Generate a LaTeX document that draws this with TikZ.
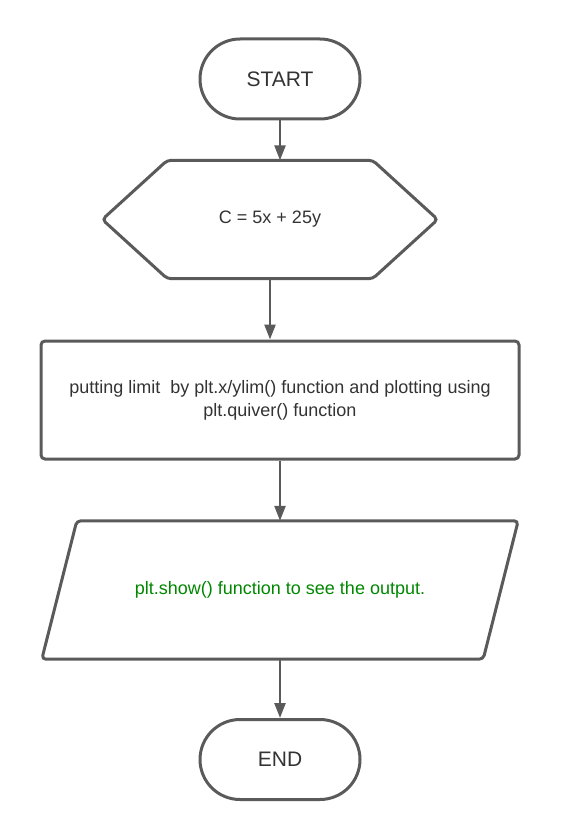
\documentclass[tikz,border=0pt]{standalone}
\usepackage{fontspec}
\setmainfont{Liberation Sans}
\usetikzlibrary{arrows.meta,positioning}
\definecolor{linegray}{RGB}{90,90,90}
\definecolor{textgray}{RGB}{51,51,51}
\definecolor{outgreen}{RGB}{0,135,0}

\begin{document}
\begin{tikzpicture}[x=1pt,y=-1pt,
    box/.style={text=textgray,font=\fontsize{18}{23}\selectfont,align=center,inner sep=0pt},
    outline/.style={draw=linegray,line width=3pt,rounded corners=4pt},
    terminal/.style={box,draw=linegray,line width=3pt,rounded corners=40pt,minimum width=160pt,minimum height=80pt,font=\fontsize{21}{25}\selectfont},
    arrow/.style={draw=linegray,line width=2.5pt,-{Triangle[width=11pt,length=15pt]}}]
    \useasboundingbox (0,0) rectangle (560,840);
    \node[terminal] (start) at (280,79) {START};
    \node[box,minimum width=335pt,minimum height=118pt] (cost) at (270,219.5) {C = 5x + 25y};
    \draw[outline] (cost.west) -- ([xshift=65pt]cost.north west) -- ([xshift=-65pt]cost.north east)
        -- (cost.east) -- ([xshift=-65pt]cost.south east) -- ([xshift=65pt]cost.south west) -- cycle;
    \node[box,draw=linegray,line width=3pt,rounded corners=4pt,minimum width=478pt,minimum height=118pt] (limit) at (280,400)
        {putting limit \ by plt.x/ylim() function and plotting using\\plt.quiver() function};
    \node[box,minimum width=476pt,minimum height=138pt,text=outgreen] (show) at (280,590)
        {plt.show() function to see the output.};
    \draw[outline] ([xshift=35pt]show.north west) -- (show.north east) -- ([xshift=-35pt]show.south east)
        -- (show.south west) -- cycle;
    \node[terminal] (end) at (280,759.5) {END};
    \draw[arrow] (start) -- (start |- cost.north);
    \draw[arrow] (cost.south) -- (cost.south |- limit.north);
    \draw[arrow] (limit) -- (show);
    \draw[arrow] (show) -- (end);
\end{tikzpicture}
\end{document}
